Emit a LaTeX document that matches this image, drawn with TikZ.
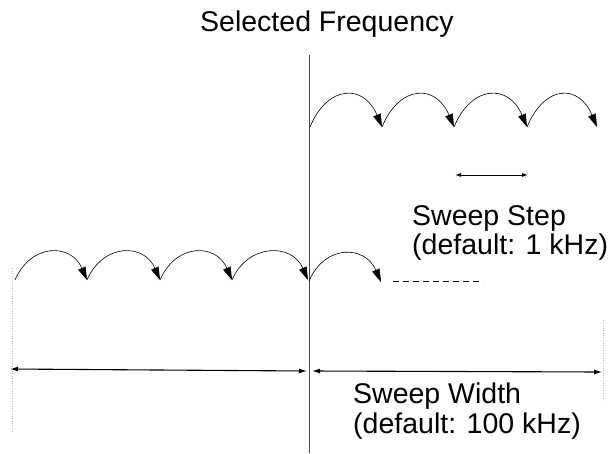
\documentclass[tikz,border=0pt]{standalone}
\usepackage{fontspec}
\setmainfont{Liberation Sans}
\usetikzlibrary{arrows.meta}
\tikzset{
  hop/.style={line width=0.6pt,-{Triangle[length=13pt,width=8pt]}},
  lbl/.style={anchor=base west,inner sep=0pt,font=\fontsize{28.5}{30}\selectfont},
  span/.style={line width=1.1pt,{Latex[length=8pt,width=5pt]}-{Latex[length=8pt,width=5pt]}},
  smallspan/.style={line width=1pt,{Latex[length=6pt,width=4pt]}-{Latex[length=6pt,width=4pt]}},
  marker/.style={line width=0.6pt,black!70},
  faint/.style={line width=0.5pt,black!25,dotted},
}
\begin{document}
\begin{tikzpicture}[x=1pt,y=-1pt]
\useasboundingbox (0,0) rectangle (609,453);
% title
\node[lbl] (title) at (200,31) {Selected Frequency};
% selected frequency marker
\coordinate (vt) at (309,55);
\coordinate (vb) at (309,453);
\draw[marker] (vt) -- (vb);
% upper row of hops
\foreach \i/\x in {0/310,1/382,2/454,3/527,4/597} \coordinate (u\i) at (\x,127);
\foreach \a/\b in {0/1,1/2,2/3,3/4}
  \draw[hop] (u\a) .. controls +(18,-43) and +(-18,-43) .. (u\b);
% lower row of hops
\foreach \i/\x in {0/15,1/87,2/160,3/232,4/308} \coordinate (l\i) at (\x,280);
\foreach \a/\b in {0/1,1/2,2/3,3/4}
  \draw[hop] (l\a) .. controls +(16,-37) and +(-16,-37) .. (l\b);
\coordinate (m0) at (309,281);
\coordinate (m1) at (381,282);
\draw[hop] (m0) .. controls +(16,-37) and +(-16,-37) .. (m1);
% dashed continuation
\coordinate (d0) at (393,281);
\coordinate (d1) at (483,281);
\draw[line width=0.8pt,dash pattern=on 6pt off 4pt] (d0) -- (d1);
% sweep step indicator
\coordinate (s0) at (455,175);
\coordinate (s1) at (528,175);
\draw[smallspan] (s0) -- (s1);
\node[lbl] (step1) at (412,225) {Sweep Step};
\node[lbl] (step2) at (412,254) {(default: 1 kHz)};
% sweep width
\coordinate (w0) at (10,369);
\coordinate (w1) at (307,371);
\coordinate (w2) at (312,371);
\coordinate (w3) at (602,372);
\draw[span] (w0) -- (w1);
\draw[span] (w2) -- (w3);
\coordinate (fl0) at (12,268);
\coordinate (fl1) at (12,432);
\coordinate (fr0) at (603,320);
\coordinate (fr1) at (603,400);
\draw[faint] (fl0) -- (fl1);
\draw[faint] (fr0) -- (fr1);
\node[lbl] (width1) at (353,403) {Sweep Width};
\node[lbl] (width2) at (353,433) {(default: 100 kHz)};
\end{tikzpicture}
\end{document}
